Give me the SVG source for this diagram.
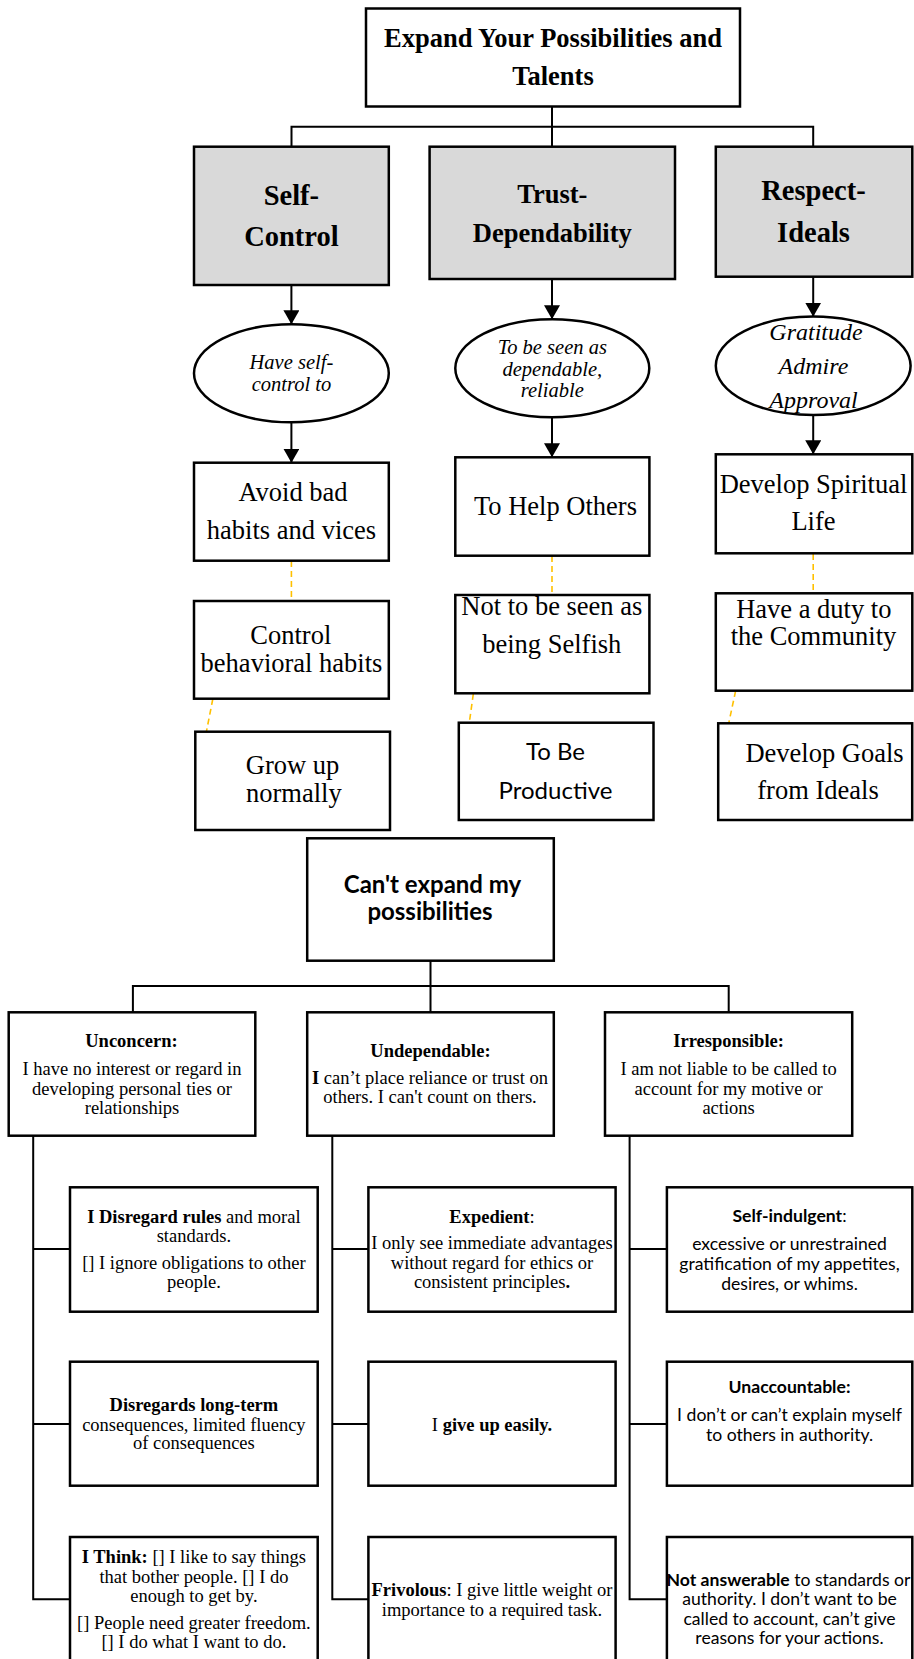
<svg xmlns="http://www.w3.org/2000/svg" width="914" height="1659" viewBox="0 0 914 1659">
<defs>
<marker id="arr" viewBox="0 0 14 16" markerWidth="14" markerHeight="16" refX="14" refY="8" orient="auto" markerUnits="userSpaceOnUse">
<path d="M0,0 L14,8 L0,16 z" fill="#000"/>
</marker>
</defs>
<style>
.box{fill:#fff;stroke:#000;stroke-width:2.5}
.grey{fill:#d9d9d9;stroke:#000;stroke-width:2.5}
.ln{fill:none;stroke:#000;stroke-width:2}
.dash{fill:none;stroke:#ffc000;stroke-width:1.6;stroke-dasharray:6 4}
.tb{font-family:"Liberation Serif",serif;font-weight:bold;text-anchor:middle;fill:#000}
.t{font-family:"Liberation Serif",serif;text-anchor:middle;fill:#000}
.ti{font-family:"Liberation Serif",serif;font-style:italic;text-anchor:middle;fill:#000}
.s{font-family:Lato,"Open Sans",sans-serif;text-anchor:middle;fill:#000}
.b{font-weight:bold}
.sm{font-size:18.5px}
.ss{font-size:17.6px}
</style>
<rect width="914" height="1659" fill="#fff"/>

<g id="connectors">
<path class="ln" d="M552,106.5 V126.7 M291.5,146.7 V126.7 H813.2 V146.7 M552,126.7 V146.7"/>
<line class="ln" x1="291.4" y1="285" x2="291.4" y2="324.3" marker-end="url(#arr)"/>
<line class="ln" x1="291.4" y1="422.3" x2="291.4" y2="462.7" marker-end="url(#arr)"/>
<line class="ln" x1="552" y1="279" x2="552" y2="319.3" marker-end="url(#arr)"/>
<line class="ln" x1="552" y1="417.3" x2="552" y2="457.3" marker-end="url(#arr)"/>
<line class="ln" x1="813.2" y1="276.7" x2="813.2" y2="316.7" marker-end="url(#arr)"/>
<line class="ln" x1="813.2" y1="415" x2="813.2" y2="454.3" marker-end="url(#arr)"/>
<line class="dash" x1="291.4" y1="561" x2="291.4" y2="601"/>
<line class="dash" x1="212.8" y1="699" x2="206.4" y2="731.7"/>
<line class="dash" x1="552" y1="556" x2="552" y2="595"/>
<line class="dash" x1="473.3" y1="694" x2="469.3" y2="722.7"/>
<line class="dash" x1="813.2" y1="554" x2="813.2" y2="593.3"/>
<line class="dash" x1="735.6" y1="691" x2="728.7" y2="723.3"/>
<path class="ln" d="M430.5,960.7 V986 M132.9,1012.3 V986 H728.7 V1012.3 M430.5,986 V1012.3"/>
<path class="ln" d="M33.2,1135.7 V1599.3 H70 M33.2,1249 H70 M33.2,1424 H70"/>
<path class="ln" d="M332.3,1135.7 V1599.3 H368.4 M332.3,1249 H368.4 M332.3,1424 H368.4"/>
<path class="ln" d="M629.6,1135.7 V1599.3 H666.9 M629.6,1249 H666.9 M629.6,1424 H666.9"/>
</g>

<g id="title">
<rect class="box" x="366" y="8.5" width="374" height="98"/>
<text class="tb" font-size="26.5" x="553" y="46.5">Expand Your Possibilities and</text>
<text class="tb" font-size="26.5" x="553" y="85">Talents</text>
</g>

<g id="self-control">
<rect class="grey" x="194" y="146.7" width="194.8" height="138.3"/>
<text class="tb" font-size="28.5" x="291.4" y="205">Self-</text>
<text class="tb" font-size="28.5" x="291.4" y="246">Control</text>
</g>
<g id="trust">
<rect class="grey" x="429.6" y="146.7" width="245.4" height="132.3"/>
<text class="tb" font-size="26.5" x="552.3" y="203">Trust-</text>
<text class="tb" font-size="26.5" x="552.3" y="241.5">Dependability</text>
</g>
<g id="respect">
<rect class="grey" x="715.8" y="146.7" width="196.5" height="130"/>
<text class="tb" font-size="28.5" x="813.5" y="200">Respect-</text>
<text class="tb" font-size="28.5" x="813.5" y="242">Ideals</text>
</g>

<g id="have-self-control">
<ellipse class="box" cx="291.4" cy="373.3" rx="97.4" ry="49"/>
<text class="ti" font-size="20.5" x="291.4" y="369">Have self-</text>
<text class="ti" font-size="20.5" x="291.4" y="391">control to</text>
</g>
<g id="dependable">
<ellipse class="box" cx="552.3" cy="368.3" rx="97" ry="49"/>
<text class="ti" font-size="20.5" x="552.3" y="354">To be seen as</text>
<text class="ti" font-size="20.5" x="552.3" y="376">dependable,</text>
<text class="ti" font-size="20.5" x="552.3" y="397">reliable</text>
</g>
<g id="gratitude">
<ellipse class="box" cx="813.2" cy="365.8" rx="97.4" ry="49.2"/>
<text class="ti" font-size="24" x="816" y="340">Gratitude</text>
<text class="ti" font-size="24" x="813.5" y="374">Admire</text>
<text class="ti" font-size="24" x="813.5" y="408">Approval</text>
</g>

<g id="avoid-bad">
<rect class="box" x="194" y="462.7" width="194.8" height="98"/>
<text class="t" font-size="26.5" x="293" y="501">Avoid bad</text>
<text class="t" font-size="26.5" x="291.5" y="539">habits and vices</text>
</g>
<g id="help-others">
<rect class="box" x="455.3" y="457.3" width="194.1" height="98.4"/>
<text class="t" font-size="26.5" x="555.5" y="515">To Help Others</text>
</g>
<g id="spiritual">
<rect class="box" x="715.8" y="454.3" width="196.5" height="99"/>
<text class="t" font-size="26.5" x="813.5" y="493">Develop Spiritual</text>
<text class="t" font-size="26.5" x="813.5" y="530">Life</text>
</g>

<g id="control-habits">
<rect class="box" x="194" y="601" width="194.8" height="97.7"/>
<text class="t" font-size="26.5" x="290.8" y="643.5">Control</text>
<text class="t" font-size="26.5" x="291.5" y="672">behavioral habits</text>
</g>
<g id="not-selfish">
<rect class="box" x="455.3" y="595" width="194.1" height="98.3"/>
<text class="t" font-size="26.5" x="551.8" y="615">Not to be seen as</text>
<text class="t" font-size="26.5" x="551.8" y="653">being Selfish</text>
</g>
<g id="duty">
<rect class="box" x="715.8" y="593.3" width="196.5" height="97.4"/>
<text class="t" font-size="26.5" x="813.8" y="618">Have a duty to</text>
<text class="t" font-size="26.5" x="813.5" y="645">the Community</text>
</g>

<g id="grow-up">
<rect class="box" x="195.3" y="731.7" width="194.7" height="98.3"/>
<text class="t" font-size="26.5" x="292.5" y="774">Grow up</text>
<text class="t" font-size="26.5" x="293.8" y="802">normally</text>
</g>
<g id="productive">
<rect class="box" x="458.8" y="722.7" width="194.7" height="97.3"/>
<text class="s" font-size="24" x="555.5" y="760">To Be</text>
<text class="s" font-size="24" x="555.5" y="799">Productive</text>
</g>
<g id="goals">
<rect class="box" x="718.2" y="723.3" width="194" height="96.7"/>
<text class="t" font-size="26.5" x="824.5" y="762">Develop Goals</text>
<text class="t" font-size="26.5" x="818" y="799">from Ideals</text>
</g>

<g id="cant-expand">
<rect class="box" x="307.2" y="838.3" width="246.6" height="122.4"/>
<text class="s b" font-size="24" x="432.5" y="892.7">Can't expand my</text>
<text class="s b" font-size="24" x="430" y="920">possibilities</text>
</g>

<g id="unconcern">
<rect class="box" x="8.7" y="1012.3" width="246.6" height="123.4"/>
<text class="tb sm" x="131.5" y="1047">Unconcern:</text>
<text class="t sm" x="132" y="1075">I have no interest or regard in</text>
<text class="t sm" x="132" y="1094.5">developing personal ties or</text>
<text class="t sm" x="132" y="1114">relationships</text>
</g>
<g id="undependable">
<rect class="box" x="307.2" y="1012.3" width="246.6" height="123.4"/>
<text class="tb sm" x="430.5" y="1057">Undependable:</text>
<text class="t sm" x="430" y="1084"><tspan font-weight="bold">I</tspan> can’t place reliance or trust on</text>
<text class="t sm" x="430" y="1103">others. I can't count on thers.</text>
</g>
<g id="irresponsible">
<rect class="box" x="605" y="1012.3" width="247.2" height="123.4"/>
<text class="tb sm" x="728.6" y="1047">Irresponsible:</text>
<text class="t sm" x="728.6" y="1075">I am not liable to be called to</text>
<text class="t sm" x="728.6" y="1094.5">account  for my motive or</text>
<text class="t sm" x="728.6" y="1114">actions</text>
</g>

<g id="disregard-rules">
<rect class="box" x="70" y="1187.3" width="247.7" height="124.4"/>
<text class="t sm" x="193.9" y="1222.5"><tspan font-weight="bold">I Disregard rules</tspan> and moral</text>
<text class="t sm" x="193.9" y="1242">standards.</text>
<text class="t sm" x="193.9" y="1268.5">[] I ignore obligations to other</text>
<text class="t sm" x="193.9" y="1288">people.</text>
</g>
<g id="expedient">
<rect class="box" x="368.4" y="1187.3" width="247.2" height="124.4"/>
<text class="t sm" x="492" y="1222.5"><tspan font-weight="bold">Expedient</tspan>:</text>
<text class="t sm" x="492" y="1249">I only see immediate advantages</text>
<text class="t sm" x="492" y="1268.5">without regard  for ethics or</text>
<text class="t sm" x="492" y="1288">consistent principles<tspan font-weight="bold">.</tspan></text>
</g>
<g id="self-indulgent">
<rect class="box" x="666.9" y="1187.3" width="245.4" height="124.4"/>
<text class="s ss" x="789.5" y="1221.5"><tspan font-weight="bold">Self-indulgent</tspan>:</text>
<text class="s ss" x="789.5" y="1250">excessive or unrestrained</text>
<text class="s ss" x="789.5" y="1269.5">gratification of my appetites,</text>
<text class="s ss" x="789.5" y="1289.5">desires, or whims.</text>
</g>

<g id="long-term">
<rect class="box" x="70" y="1361.7" width="247.7" height="124"/>
<text class="tb sm" x="193.9" y="1411">Disregards long-term</text>
<text class="t sm" x="193.9" y="1431">consequences,  limited fluency</text>
<text class="t sm" x="193.9" y="1449">of consequences</text>
</g>
<g id="give-up">
<rect class="box" x="368.4" y="1361.7" width="247.2" height="124"/>
<text class="t sm" x="492" y="1431">I <tspan font-weight="bold">give up easily.</tspan></text>
</g>
<g id="unaccountable">
<rect class="box" x="666.9" y="1361.7" width="245.4" height="124"/>
<text class="s b ss" x="789.5" y="1392.5">Unaccountable:</text>
<text class="s ss" x="789.5" y="1421">I don’t or can’t explain myself</text>
<text class="s ss" x="789.5" y="1441">to others in authority.</text>
</g>

<g id="i-think">
<rect class="box" x="70" y="1537" width="247.7" height="140"/>
<text class="t sm" x="193.9" y="1562.5"><tspan font-weight="bold">I Think:</tspan> [] I like to say things</text>
<text class="t sm" x="193.9" y="1582.5">that bother people. [] I do</text>
<text class="t sm" x="193.9" y="1602">enough to get by.</text>
<text class="t sm" x="193.9" y="1628.5">[] People need greater  freedom.</text>
<text class="t sm" x="193.9" y="1647.5">[] I do what I want to do.</text>
</g>
<g id="frivolous">
<rect class="box" x="368.4" y="1537" width="247.2" height="140"/>
<text class="t sm" x="492" y="1596"><tspan font-weight="bold">Frivolous</tspan>: I give little weight  or</text>
<text class="t sm" x="492" y="1616">importance  to a required task.</text>
</g>
<g id="not-answerable">
<rect class="box" x="666.9" y="1537" width="245.4" height="140"/>
<text class="s ss" font-size="17.2" x="788.5" y="1585.5"><tspan font-weight="bold">Not answerable</tspan> to standards or</text>
<text class="s ss" x="789.5" y="1605">authority. I don’t want to be</text>
<text class="s ss" x="789.5" y="1624.5">called to account, can’t give</text>
<text class="s ss" x="789.5" y="1644">reasons for your actions.</text>
</g>
</svg>
